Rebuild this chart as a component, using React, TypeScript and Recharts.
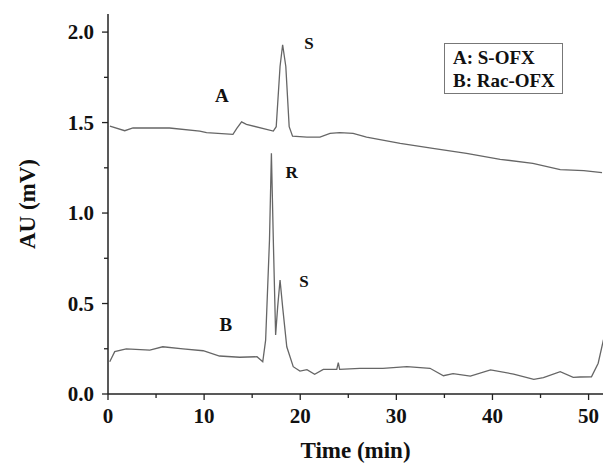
import React from "react";
import { LineChart, Line, XAxis, YAxis, ReferenceDot } from "recharts";

const timesA = [0.2, 1.74, 2.6, 6.4, 9.55, 10.25, 13.0, 13.4, 13.9, 14.4, 17.2, 17.5, 17.9, 18.17, 18.5, 18.85, 19.2, 20.7, 22.05, 23.1, 24.1, 25.5, 26.9, 30.4, 33.8, 37.3, 40.8, 44.2, 47.05, 49.5, 51.4];
const valuesA = [1.48, 1.455, 1.47, 1.47, 1.453, 1.444, 1.435, 1.468, 1.504, 1.49, 1.453, 1.477, 1.81, 1.93, 1.81, 1.477, 1.425, 1.42, 1.42, 1.44, 1.444, 1.44, 1.42, 1.385, 1.357, 1.33, 1.297, 1.275, 1.24, 1.234, 1.223];

const timesB = [0.18, 0.7, 1.9, 4.35, 5.7, 7.8, 9.9, 11.6, 13.7, 15.5, 16.1, 16.4, 16.8, 17.0, 17.2, 17.44, 17.65, 17.9, 18.17, 18.6, 19.27, 19.97, 20.7, 21.5, 22.4, 23.8, 23.96, 24.1, 26.2, 28.6, 31.1, 33.5, 34.9, 35.9, 37.7, 39.8, 42.2, 44.3, 45.3, 47.05, 48.4, 49.1, 50.3, 51.0, 51.55];
const valuesB = [0.178, 0.234, 0.249, 0.243, 0.261, 0.249, 0.239, 0.21, 0.203, 0.206, 0.178, 0.298, 0.85, 1.33, 0.85, 0.326, 0.48, 0.63, 0.48, 0.261, 0.151, 0.127, 0.135, 0.109, 0.136, 0.136, 0.173, 0.136, 0.142, 0.142, 0.151, 0.142, 0.101, 0.113, 0.099, 0.133, 0.11, 0.081, 0.09, 0.123, 0.092, 0.094, 0.095, 0.17, 0.3];

const xTicks = [0, 5, 10, 15, 20, 25, 30, 35, 40, 45, 50];
const yTicks = [0, 0.25, 0.5, 0.75, 1.0, 1.25, 1.5, 1.75, 2.0];

const legendLines = ["A: S-OFX", "B: Rac-OFX"];

const peakLabels = [
  { t: 20.9, v: 1.94, text: "S", size: 17 },
  { t: 11.85, v: 1.65, text: "A", size: 19 },
  { t: 19.1, v: 1.227, text: "R", size: 17 },
  { t: 20.4, v: 0.624, text: "S", size: 17 },
  { t: 12.25, v: 0.387, text: "B", size: 19 },
];

const seriesA = timesA.map((t, i) => ({ t, v: valuesA[i] }));
const seriesB = timesB.map((t, i) => ({ t, v: valuesB[i] }));

const FONT = "'Liberation Serif', 'Times New Roman', serif";
const AXIS = "#222";
const TRACE = "#666";

const isMajor = (v: number, step: number) => Math.abs(v / step - Math.round(v / step)) < 1e-6;

const YTick = (props: any) => {
  const { x, y, payload } = props;
  const major = isMajor(payload.value, 0.5);
  return (
    <g>
      <line x1={x - (major ? 6 : 4)} x2={x} y1={y} y2={y} stroke={AXIS} strokeWidth={1.3} />
      {major && (
        <text x={x - 14} y={y} dy="0.35em" textAnchor="end" fontFamily={FONT} fontWeight="bold" fontSize={21} fill="#111">
          {payload.value.toFixed(1)}
        </text>
      )}
    </g>
  );
};

const XTick = (props: any) => {
  const { x, y, payload } = props;
  const major = isMajor(payload.value, 10);
  return (
    <g>
      <line x1={x} x2={x} y1={y} y2={y + (major ? 6 : 4)} stroke={AXIS} strokeWidth={1.3} />
      {major && (
        <text x={x} y={y + 22} dy="0.35em" textAnchor="middle" fontFamily={FONT} fontWeight="bold" fontSize={21} fill="#111">
          {payload.value}
        </text>
      )}
    </g>
  );
};

export default function App() {
  return (
    <div style={{ position: "absolute", left: 0, top: 0, width: 603, height: 467, background: "#fff" }}>
      <LineChart width={603} height={467} margin={{ top: 14, right: 0, bottom: 43, left: 48 }}>
        <XAxis
          type="number"
          dataKey="t"
          domain={[0, 51.5]}
          ticks={xTicks}
          allowDataOverflow
          height={30}
          tickSize={0}
          tickMargin={0}
          tickLine={false}
          tick={<XTick />}
          stroke={AXIS}
          strokeWidth={1.5}
          label={{ value: "Time (min)", position: "insideBottom", offset: -34, style: { fontFamily: FONT, fontWeight: "bold", fontSize: 23, fill: "#111" } }}
        />
        <YAxis
          type="number"
          dataKey="v"
          domain={[0, 2.1]}
          ticks={yTicks}
          allowDataOverflow
          width={60}
          tickSize={0}
          tickMargin={0}
          tickLine={false}
          tick={<YTick />}
          stroke={AXIS}
          strokeWidth={1.5}
          label={{ value: "AU (mV)", angle: -90, position: "insideLeft", offset: -21, style: { fontFamily: FONT, fontWeight: "bold", fontSize: 23, fill: "#111", textAnchor: "middle" } }}
        />
        <Line data={seriesA} dataKey="v" type="linear" stroke={TRACE} strokeWidth={1.3} dot={false} isAnimationActive={false} />
        <Line data={seriesB} dataKey="v" type="linear" stroke={TRACE} strokeWidth={1.3} dot={false} isAnimationActive={false} />
        {peakLabels.map((p, i) => (
          <ReferenceDot
            key={i}
            x={p.t}
            y={p.v}
            r={0}
            fill="none"
            stroke="none"
            label={{ value: p.text, position: "center", style: { fontFamily: FONT, fontWeight: "bold", fontSize: p.size, fill: "#111" } }}
          />
        ))}
      </LineChart>
      <div
        style={{
          position: "absolute",
          left: 444,
          top: 43,
          width: 119,
          height: 51,
          boxSizing: "border-box",
          border: "1px solid #777",
          background: "#fff",
          padding: "2px 0 0 8px",
          fontFamily: FONT,
          fontWeight: "bold",
          fontSize: 19,
          lineHeight: "23px",
          color: "#111",
          whiteSpace: "nowrap",
        }}
      >
        {legendLines.map((l) => (
          <div key={l}>{l}</div>
        ))}
      </div>
    </div>
  );
}
